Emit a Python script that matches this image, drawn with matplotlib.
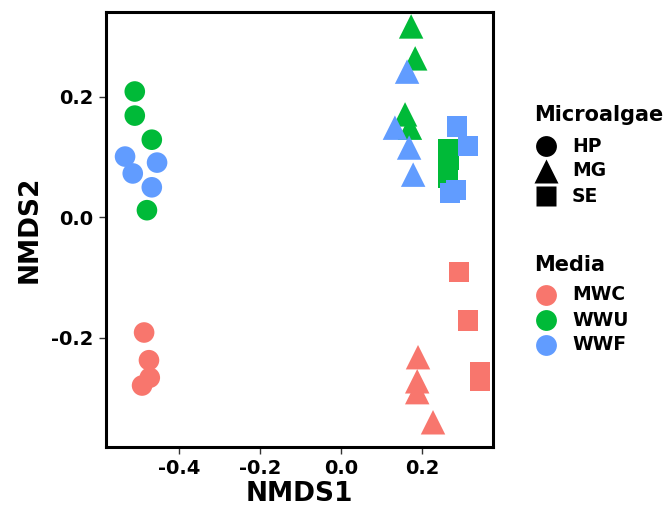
import matplotlib
matplotlib.use("Agg")
import matplotlib.pyplot as plt
from matplotlib.lines import Line2D

plt.rcParams['font.family'] = ['DejaVu Sans']
plt.rcParams['font.weight'] = 'bold'

media_names = ["MWC", "WWU", "WWF"]
media_colors = ["#F8766D", "#00BA38", "#619CFF"]
algae_names = ["HP", "MG", "SE"]
algae_markers = ["o", "^", "s"]

# NMDS coordinates per (microalgae, media)
hp_mwc_x = [-0.486, -0.474, -0.472, -0.491]
hp_mwc_y = [-0.191, -0.237, -0.266, -0.279]
hp_wwu_x = [-0.509, -0.509, -0.467, -0.479]
hp_wwu_y = [0.209, 0.169, 0.129, 0.012]
hp_wwf_x = [-0.533, -0.514, -0.454, -0.467]
hp_wwf_y = [0.101, 0.073, 0.091, 0.050]

mg_mwc_x = [0.190, 0.188, 0.188, 0.227]
mg_mwc_y = [-0.232, -0.272, -0.290, -0.340]
mg_wwu_x = [0.173, 0.183, 0.158, 0.170]
mg_wwu_y = [0.317, 0.264, 0.171, 0.149]
mg_wwf_x = [0.163, 0.133, 0.168, 0.178]
mg_wwf_y = [0.242, 0.149, 0.116, 0.071]

se_mwc_x = [0.291, 0.314, 0.343, 0.343]
se_mwc_y = [-0.091, -0.171, -0.256, -0.271]
se_wwu_x = [0.264, 0.267, 0.264, 0.264]
se_wwu_y = [0.113, 0.096, 0.080, 0.066]
se_wwf_x = [0.286, 0.314, 0.269, 0.284]
se_wwf_y = [0.151, 0.118, 0.041, 0.046]

groups = [
    ("HP", "MWC", hp_mwc_x, hp_mwc_y), ("HP", "WWU", hp_wwu_x, hp_wwu_y), ("HP", "WWF", hp_wwf_x, hp_wwf_y),
    ("MG", "MWC", mg_mwc_x, mg_mwc_y), ("MG", "WWU", mg_wwu_x, mg_wwu_y), ("MG", "WWF", mg_wwf_x, mg_wwf_y),
    ("SE", "MWC", se_mwc_x, se_mwc_y), ("SE", "WWU", se_wwu_x, se_wwu_y), ("SE", "WWF", se_wwf_x, se_wwf_y),
]

x_ticks = [-0.4, -0.2, 0.0, 0.2]
y_ticks = [-0.2, 0.0, 0.2]

W, H = 668, 514
fig = plt.figure(figsize=(W / 100, H / 100), dpi=100)
ax = fig.add_axes([0.1587, 0.1304, 0.738 - 0.1587, 0.9767 - 0.1304])

sizes = {"o": 220, "^": 310, "s": 210}
for alg, med, xs, ys in groups:
    m = algae_markers[algae_names.index(alg)]
    c = media_colors[media_names.index(med)]
    ax.scatter(xs, ys, marker=m, s=sizes[m], color=c, edgecolors='none', zorder=3)

ax.set_xlim(-0.58, 0.375)
ax.set_ylim(-0.381, 0.341)
ax.set_xticks(x_ticks)
ax.set_yticks(y_ticks)
ax.set_xticklabels([f"{v:.1f}" for v in x_ticks])
ax.set_yticklabels([f"{v:.1f}" for v in y_ticks])
ax.tick_params(axis='both', direction='out', length=5, width=1, color='#333333',
               labelsize=14, labelcolor='black', pad=4)
for lab in ax.get_xticklabels() + ax.get_yticklabels():
    lab.set_fontweight('bold')
for sp in ax.spines.values():
    sp.set_linewidth(2.2)
    sp.set_color('black')
ax.set_xlabel("NMDS1", fontsize=19, fontweight='bold', labelpad=2)
ax.set_ylabel("NMDS2", fontsize=19, fontweight='bold', labelpad=6)


def fx(px):
    return px / W


def fy(py):
    return 1 - py / H


# Legend: Microalgae (shape)
fig.text(fx(534), fy(115), "Microalgae", fontsize=15, fontweight='bold', va='center', ha='left')
leg_shape_y = [146, 171, 196]
leg_shape_ms = {"o": 15, "^": 17, "s": 15}
for name, m, py in zip(algae_names, algae_markers, leg_shape_y):
    fig.add_artist(Line2D([fx(546)], [fy(py)], transform=fig.transFigure, linestyle='none',
                          marker=m, markersize=leg_shape_ms[m], color='black', markeredgecolor='none'))
    fig.text(fx(572), fy(py), name, fontsize=13.5, fontweight='bold', va='center', ha='left')

# Legend: Media (colour)
fig.text(fx(534), fy(265), "Media", fontsize=15, fontweight='bold', va='center', ha='left')
leg_col_y = [295, 320, 345]
for name, c, py in zip(media_names, media_colors, leg_col_y):
    fig.add_artist(Line2D([fx(546)], [fy(py)], transform=fig.transFigure, linestyle='none',
                          marker='o', markersize=15, color=c, markeredgecolor='none'))
    fig.text(fx(572), fy(py), name, fontsize=13.5, fontweight='bold', va='center', ha='left')

fig.savefig("out.png", dpi=100)
